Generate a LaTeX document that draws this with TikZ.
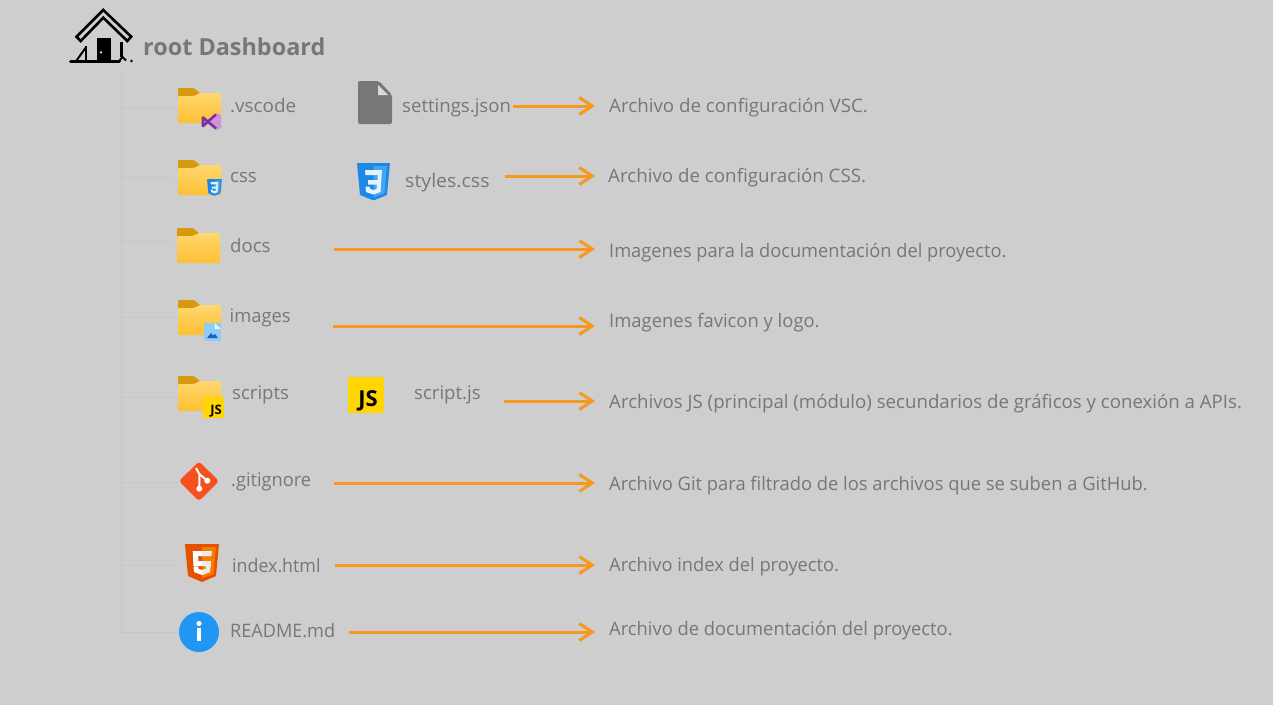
\documentclass[tikz,border=0pt]{standalone}
\usepackage{fontspec}
\setmainfont{Open Sans}
\usetikzlibrary{arrows.meta}
\definecolor{bgc}{HTML}{CECECE}
\definecolor{txt}{HTML}{777777}
\definecolor{org}{HTML}{F59A1E}
\definecolor{tree}{HTML}{C6C6C6}
\definecolor{foldA}{HTML}{FFD76E}
\definecolor{foldB}{HTML}{FDC033}
\definecolor{foldT}{HTML}{D69A0E}
\definecolor{cssA}{HTML}{1E88E5}
\definecolor{cssB}{HTML}{42A5F5}
\definecolor{cssW}{HTML}{E3F2FD}
\definecolor{htmA}{HTML}{E65100}
\definecolor{htmB}{HTML}{F57C00}
\definecolor{htmW}{HTML}{EBEBEB}
\definecolor{jsy}{HTML}{FFD600}
\definecolor{gitc}{HTML}{F4511E}
\definecolor{infoc}{HTML}{2196F3}
\definecolor{imgA}{HTML}{90CAF9}
\definecolor{imgB}{HTML}{E3F2FD}
\definecolor{imgC}{HTML}{1565C0}
\definecolor{vsA}{HTML}{CE93D8}
\definecolor{vsB}{HTML}{7B2FA8}
\definecolor{foldf}{HTML}{D9D9D9}
\newcommand{\fw}[2]{\scalebox{#1}[1]{#2}}
\tikzset{
  x=1pt,y=-1pt,
  lbl/.style={anchor=base west,inner sep=0pt,text=txt,font=\fontsize{18.6}{22}\selectfont},
  conn/.style={draw=org,line width=3pt,-{Straight Barb[length=13pt,width=17pt,line width=3pt]}},
  branch/.style={draw=tree,line width=1pt},
  folder/.pic={
    \fill[foldT,rounded corners=1pt] (0,10)--(0,0)--(16,0)--(22,5)--(22,10)--cycle;
    \shade[top color=foldA,bottom color=foldB,rounded corners=1pt] (16,8)--(22,5)--(43,5)--(43,35)--(0,35)--(0,8)--cycle;
  },
  css3/.pic={
    \fill[cssA,rounded corners=.8pt] (0,0)--(33,0)--(30,32)--(16.5,37.5)--(3,32)--cycle;
    \fill[cssB] (16.5,3)--(30,3)--(27.5,30)--(16.5,34.5)--cycle;
    \fill[cssW] (8,7)--(25,7)--(23.5,29)--(16.5,31.5)--(9,29)--(8.5,23.5)--(13,23.5)--(13.3,26)--(16.5,27)--(19.5,26)--(20,21.5)--(11,21.5)--(11,17)--(20.5,17)--(20.8,12)--(8.5,12)--cycle;
  },
  fileic/.pic={
    \fill[txt,rounded corners=2pt] (0,0)--(21,0)--(34,14)--(34,43)--(0,43)--cycle;
    \fill[foldf] (20,4)--(30,14)--(20,14)--cycle;
  },
}
\begin{document}
\begin{tikzpicture}
\useasboundingbox (0,0) rectangle (1273,705);
\fill[bgc] (0,0) rectangle (1273,705);
% tree
\coordinate (trunkTop) at (121,70);
\coordinate (t1) at (121,108);\coordinate (e1) at (174,108);
\coordinate (t2) at (121,177);\coordinate (e2) at (172,177);
\coordinate (t3) at (121,241);\coordinate (e3) at (173,241);
\coordinate (t4) at (121,317);\coordinate (e4) at (177,317);
\coordinate (t5) at (121,397);\coordinate (e5) at (177,397);
\coordinate (t6) at (121,482);\coordinate (e6) at (178,482);
\coordinate (t7) at (121,565);\coordinate (e7) at (178,565);
\coordinate (t8) at (121,632);\coordinate (e8) at (178,632);
\draw[branch] (trunkTop)--(t8);
\foreach \i in {1,...,8}{\draw[branch] (t\i)--(e\i);}
% house
\begin{scope}[line width=2.6pt,black]
  \draw[line join=miter] (76.5,36.7)--(103.3,10)--(131.2,36.7)--(127.3,41)--(103.3,17.7)--(80.7,41)--cycle;
  \draw (86,46)--(86,61);
  \draw (121.5,42)--(121.5,57);
  \fill (97.3,38.3) rectangle (110.7,61);
  \fill[bgc!40!white] (101,52.3) circle (1.2);
  \draw[line width=2.6pt,line cap=round] (70.5,61.3)--(119.5,61.3);
  \draw[line width=2pt] (76.5,60.5)--(85.5,48);
  \draw[line width=2pt] (119.5,60.5)--(122.5,57)--(126,60.5);
  \fill (131.5,61) circle (1.3);
\end{scope}
\node[anchor=base west,inner sep=0pt,text=txt,font=\fontsize{23.4}{28}\selectfont\bfseries] (root) at (143,55) {root Dashboard};
% folders
\pic at (178,88) {folder};
\pic at (178,160) {folder};
\pic at (177,228) {folder};
\pic at (178,300) {folder};
\pic at (178,376) {folder};
% vs badge
\fill[vsA] (216,113)--(221,115)--(221,128)--(216,130)--(209,122)--cycle;
\draw[vsB,line width=2.6pt,line join=round] (216,114.5)--(203,126)--(203,117.5)--(216,128.5);
% css mini
\begin{scope}[shift={(207,179)},scale=.45]
  \pic[transform shape] {css3};
\end{scope}
% image badge
\fill[imgA] (204,323) rectangle (221,341);
\fill[imgB] (214.5,323)--(221,329)--(214.5,329)--cycle;
\fill[imgC] (207,338)--(211,333)--(213,335.5)--(215,334)--(218,338)--cycle;
% js mini
\fill[jsy] (203,397) rectangle (224,418);
\node[inner sep=0pt,font=\fontsize{13}{13}\selectfont\bfseries,text=black] (jsm) at (216,411) {JS};
% files
\pic at (358,81) {fileic};
\pic at (357,163) {css3};
\fill[jsy] (348,377) rectangle (384,413);
\node[inner sep=0pt,font=\fontsize{22}{22}\selectfont\bfseries,text=black] (jsl) at (368,401) {JS};
% git
\fill[gitc,rounded corners=3pt] (199,461.5)--(219,481)--(199,501)--(179,481)--cycle;
\draw[white,line width=2pt] (196,468)--(199.3,474)--(199.3,488.5) (199.3,474)--(207.3,480.7);
\fill[white] (199.3,488.7) circle (3) (207.3,480.7) circle (3);
% html
\fill[htmA,rounded corners=.6pt] (185,544)--(219,544)--(216,576)--(202,582)--(188,576)--cycle;
\fill[htmB] (202,547)--(216,547)--(213.5,574)--(202,578)--cycle;
\def\fivepath{(192.7,551)--(211.7,551)--(211.2,556)--(198,556)--(198.5,561)--(211,561)--(209.8,572)--(202,575)--(194,572)--(193.5,566.5)--(198.3,566.5)--(198.6,569)--(202,570)--(205.5,569)--(206,566)--(193.5,566)--cycle}
\fill[white] \fivepath;
\begin{scope}
  \clip (202,544) rectangle (219,582);
  \fill[htmW] \fivepath;
\end{scope}
% info
\fill[infoc] (199,632) circle (20);
\fill[white] (199,623.5) circle (2.6);
\fill[white] (197,628) rectangle (201,641);
% labels
\node[lbl] (n1) at (230,112) {\fw{1.015}{.vscode}};
\node[lbl] (n2) at (230,182) {css};
\node[lbl] (n3) at (230,252) {docs};
\node[lbl] (n4) at (229.5,322) {\fw{.985}{images}};
\node[lbl] (n5) at (232,399) {scripts};
\node[lbl] (n6) at (231,486) {\fw{.98}{.gitignore}};
\node[lbl] (n7) at (232,572.5) {\fw{.957}{index.html}};
\node[lbl] (n8) at (230,637) {\fw{.972}{README.md}};
\node[lbl] (f1) at (402,112) {settings.json};
\node[lbl] (f2) at (405,187) {\fw{1.05}{styles.css}};
\node[lbl] (f5) at (414,399) {script.js};
\node[lbl] (d1) at (609,112) {\fw{1.008}{Archivo de configuración VSC.}};
\node[lbl] (d2) at (608,182) {\fw{1.008}{Archivo de configuración CSS.}};
\node[lbl] (d3) at (609,257) {\fw{.98}{Imagenes para la documentación del proyecto.}};
\node[lbl] (d4) at (609,327) {\fw{.99}{Imagenes favicon y logo.}};
\node[lbl] (d5) at (609,408) {\fw{1.003}{Archivos JS (principal (módulo) secundarios de gráficos y conexión a APIs.}};
\node[lbl] (d6) at (609,490) {\fw{.987}{Archivo Git para filtrado de los archivos que se suben a GitHub.}};
\node[lbl] (d7) at (609,571) {\fw{.983}{Archivo index del proyecto.}};
\node[lbl] (d8) at (609,635) {\fw{.986}{Archivo de documentación del proyecto.}};
% arrows
\coordinate (a1) at (513,106);\coordinate (b1) at (595,106);
\coordinate (a2) at (505,176);\coordinate (b2) at (595,176);
\coordinate (a3) at (334,249);\coordinate (b3) at (595,249);
\coordinate (a4) at (333,326);\coordinate (b4) at (595,326);
\coordinate (a5) at (504,401);\coordinate (b5) at (595,401);
\coordinate (a6) at (334,483);\coordinate (b6) at (595,483);
\coordinate (a7) at (335,565);\coordinate (b7) at (595,565);
\coordinate (a8) at (349,632);\coordinate (b8) at (595,632);
\foreach \i in {1,...,8}{\draw[conn] (a\i)--(b\i);}
\end{tikzpicture}
\end{document}
